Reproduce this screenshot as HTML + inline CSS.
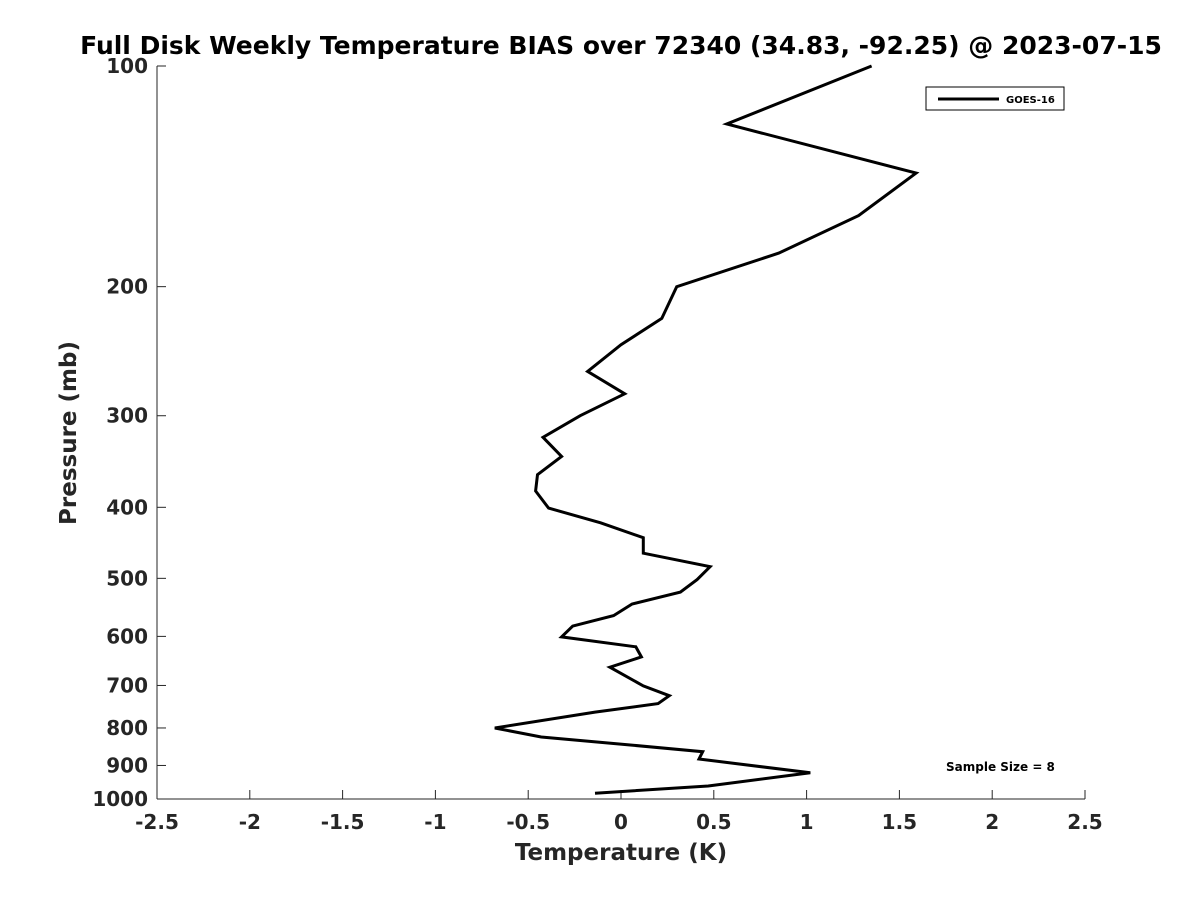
<!DOCTYPE html>
<html><head><meta charset="utf-8"><style>
body{margin:0;background:#fff;}
svg text{font-family:"DejaVu Sans","Liberation Sans",sans-serif;font-weight:bold;}
</style></head><body>
<svg id="chart" width="1200" height="900" xmlns="http://www.w3.org/2000/svg">
<rect width="1200" height="900" fill="#fff"/>
<text x="621" y="54" text-anchor="middle" font-size="25" fill="#000">Full Disk Weekly Temperature BIAS over 72340 (34.83, -92.25) @ 2023-07-15</text>
<g id="axes"></g>
<text x="621" y="860" text-anchor="middle" font-size="23" fill="#262626">Temperature (K)</text>
<text transform="translate(76,433) rotate(-90)" text-anchor="middle" font-size="23" fill="#262626">Pressure (mb)</text>
<g>
<rect x="926" y="87" width="138" height="23" fill="#fff" stroke="#000" stroke-width="1"/>
<line x1="938" y1="99" x2="999" y2="99" stroke="#000" stroke-width="3"/>
<text x="1006" y="103" font-size="10" fill="#000">GOES-16</text>
</g>
<text x="946" y="771" font-size="12" fill="#000">Sample Size = 8</text>
</svg>
<script>
const xTicks=[-2.5,-2,-1.5,-1,-0.5,0,0.5,1,1.5,2,2.5];
const xTickLabels=["-2.5","-2","-1.5","-1","-0.5","0","0.5","1","1.5","2","2.5"];
const yTicks=[100,200,300,400,500,600,700,800,900,1000];
const biasValues=[1.35,0.57,1.59,1.28,0.85,0.30,0.22,0,-0.18,0.02,-0.22,-0.42,-0.32,-0.45,-0.46,-0.39,-0.11,0.12,0.12,0.48,0.41,0.32,0.06,-0.04,-0.26,-0.32,0.08,0.11,-0.06,0.12,0.26,0.20,-0.14,-0.68,-0.43,0.05,0.44,0.42,1.02,0.47,-0.14];
const pressureLevels=[100,120,140,160,180,200,221,240,261,280,300,321,341,361,380,401,420,440,462,482,502,522,542,562,581,601,620,640,661,701,723,741,761,800,823,844,862,882,921,960,982];
const L=157,R=1085,T=66,B=799;
const xs=v=>L+(v+2.5)/5*(R-L);
const ys=p=>T+(Math.log10(p)-2)*(B-T);
const svg=document.getElementById('chart');
const ax=document.getElementById('axes');
const NS='http://www.w3.org/2000/svg';
function mk(t,a){const e=document.createElementNS(NS,t);for(const k in a)e.setAttribute(k,a[k]);return e;}
let e=mk('line',{x1:L,y1:B,x2:R,y2:B,stroke:'#262626'});


ax.appendChild(e);
e=mk('line',{x1:L,y1:T,x2:L,y2:B,stroke:'#262626'});


ax.appendChild(e);
xTicks.forEach((v,i)=>{
 const t=mk('line',{x1:xs(v),y1:B,x2:xs(v),y2:B-9,stroke:'#262626'});
 
 
 ax.appendChild(t);
 const l=mk('text',{x:xs(v),y:B+30,'text-anchor':'middle','font-size':20,fill:'#262626'});
 
 
 l.textContent=xTickLabels[i];ax.appendChild(l);
});
yTicks.forEach(p=>{
 const t=mk('line',{x1:L,y1:ys(p),x2:L+9,y2:ys(p),stroke:'#262626'});
 
 
 ax.appendChild(t);
 const l=mk('text',{x:L-9,y:ys(p)+7,'text-anchor':'end','font-size':20,fill:'#262626'});
 
 
 l.textContent=p;ax.appendChild(l);
});
const pts=biasValues.map((v,i)=>xs(v).toFixed(1)+','+ys(pressureLevels[i]).toFixed(1)).join(' ');
const line=mk('polyline',{points:pts,fill:'none',stroke:'#000','stroke-width':3,'stroke-linejoin':'miter'});


svg.appendChild(line);
</script>
</body></html>
